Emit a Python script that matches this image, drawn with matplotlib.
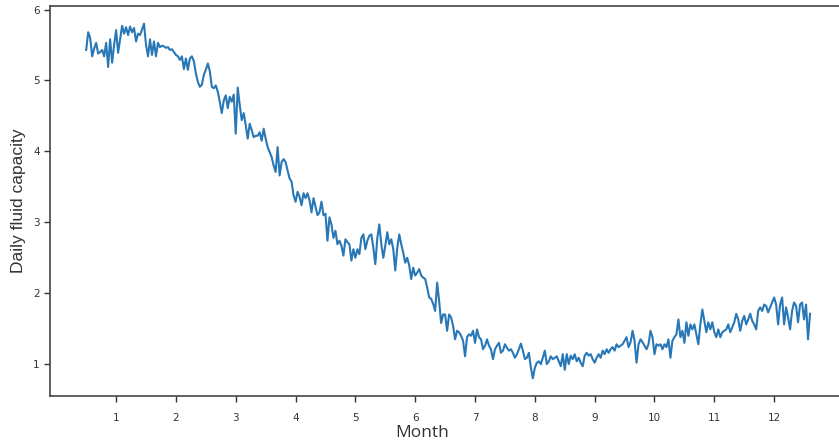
import numpy as np
import matplotlib
matplotlib.use('Agg')
import matplotlib.pyplot as plt

# daily values, one list per ~2 months
s1 = [5.43, 5.68, 5.60, 5.34, 5.45, 5.53, 5.38, 5.40, 5.43, 5.34, 5.53, 5.19, 5.58, 5.25, 5.50,
      5.71, 5.39, 5.58, 5.77, 5.66, 5.75, 5.64, 5.76, 5.68, 5.74, 5.55, 5.66, 5.64, 5.72, 5.80,
      5.50, 5.34, 5.58, 5.36, 5.55, 5.34, 5.53, 5.47, 5.49, 5.48, 5.46, 5.47, 5.43, 5.44, 5.40,
      5.36, 5.34, 5.29, 5.34, 5.16, 5.31, 5.15, 5.31, 5.34, 5.27, 5.10, 4.98, 4.91, 4.94, 5.08]
s2 = [5.15, 5.24, 5.13, 4.91, 4.89, 4.93, 4.84, 4.70, 4.54, 4.72, 4.79, 4.61, 4.77, 4.70, 4.80,
      4.25, 4.90, 4.65, 4.44, 4.54, 4.37, 4.18, 4.39, 4.30, 4.20, 4.22, 4.22, 4.27, 4.15, 4.32,
      4.18, 4.06, 3.99, 3.92, 3.80, 3.71, 4.06, 3.66, 3.85, 3.89, 3.85, 3.73, 3.62, 3.57, 3.38,
      3.29, 3.43, 3.36, 3.24, 3.41, 3.34, 3.41, 3.31, 3.14, 3.34, 3.22, 3.10, 3.14, 3.29, 3.10]
s3 = [3.12, 2.74, 3.07, 2.97, 2.78, 2.88, 2.69, 2.74, 2.67, 2.53, 2.76, 2.72, 2.69, 2.46, 2.62,
      2.50, 2.62, 2.55, 2.78, 2.83, 2.62, 2.74, 2.81, 2.83, 2.64, 2.41, 2.78, 2.97, 2.69, 2.50,
      2.67, 2.86, 2.69, 2.76, 2.62, 2.32, 2.64, 2.83, 2.69, 2.57, 2.43, 2.50, 2.39, 2.20, 2.36,
      2.25, 2.29, 2.34, 2.25, 2.22, 2.20, 2.08, 1.94, 1.92, 1.85, 1.75, 2.15, 1.89, 1.58, 1.70]
s4 = [1.70, 1.47, 1.70, 1.66, 1.54, 1.35, 1.47, 1.45, 1.40, 1.33, 1.11, 1.38, 1.42, 1.40, 1.47,
      1.30, 1.49, 1.38, 1.35, 1.21, 1.26, 1.35, 1.26, 1.21, 1.07, 1.21, 1.26, 1.30, 1.16, 1.19,
      1.28, 1.23, 1.19, 1.21, 1.16, 1.09, 1.14, 1.21, 1.29, 1.19, 1.07, 1.09, 1.16, 0.95, 0.80,
      0.95, 1.02, 1.04, 1.00, 1.09, 1.19, 1.00, 1.04, 1.11, 1.07, 1.09, 1.11, 1.04, 0.97, 1.14]
s5 = [0.92, 1.14, 1.00, 1.12, 1.07, 1.14, 1.04, 1.09, 1.02, 0.97, 1.12, 1.16, 1.12, 1.14, 1.07,
      1.02, 1.09, 1.14, 1.09, 1.19, 1.14, 1.21, 1.16, 1.21, 1.24, 1.19, 1.28, 1.24, 1.26, 1.28,
      1.33, 1.38, 1.24, 1.31, 1.47, 1.33, 1.02, 1.28, 1.35, 1.31, 1.26, 1.21, 1.28, 1.47, 1.38,
      1.14, 1.28, 1.26, 1.28, 1.21, 1.28, 1.24, 1.35, 1.09, 1.33, 1.38, 1.42, 1.63, 1.38, 1.47]
s6 = [1.30, 1.59, 1.40, 1.56, 1.49, 1.56, 1.42, 1.28, 1.56, 1.77, 1.61, 1.45, 1.59, 1.49, 1.59,
      1.45, 1.38, 1.49, 1.38, 1.45, 1.47, 1.49, 1.56, 1.45, 1.52, 1.59, 1.71, 1.63, 1.47, 1.61,
      1.68, 1.56, 1.63, 1.71, 1.61, 1.56, 1.49, 1.75, 1.80, 1.75, 1.84, 1.82, 1.73, 1.80, 1.87,
      1.94, 1.84, 1.56, 1.84, 1.94, 1.56, 1.80, 1.66, 1.49, 1.75, 1.87, 1.82, 1.59, 1.84, 1.87,
      1.63, 1.84, 1.35, 1.71]

capacity = np.array(s1 + s2 + s3 + s4 + s5 + s6)
days = np.arange(len(capacity))
month = 0.5 + days / 30.0
month_ticks = list(range(1, 13))

fig = plt.figure(figsize=(8.39, 4.47), dpi=100)
# right spine falls just outside the picture, as in the original crop
ax = fig.add_axes([0.0596, 0.114, 0.949, 0.8726])

ax.plot(month, capacity, color='#2878b8', linewidth=1.5)

ax.set_xticks(month_ticks)
ax.set_xticklabels([str(m) for m in month_ticks])
ax.tick_params(axis='both', labelsize=7.5, colors='#333333', length=4, width=1)
ax.tick_params(axis='x', pad=8)
for s in ax.spines.values():
    s.set_color('#444444')
    s.set_linewidth(1.2)

ax.set_xlabel('Month', fontsize=12.5, family='Open Sans', color='#333333')
ax.xaxis.set_label_coords(0.467, -0.075)
ax.set_ylabel('Daily fluid capacity', fontsize=12.5, family='Liberation Sans', color='#333333')
ax.yaxis.set_label_coords(-0.030, 0.5)

fig.savefig('out.png', dpi=100)
